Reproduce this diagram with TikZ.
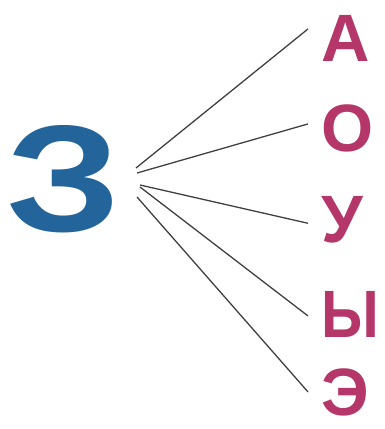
\documentclass[tikz,border=0pt]{standalone}
\usepackage{fontspec}
\setmainfont{Liberation Sans}
\definecolor{zeblue}{RGB}{35,100,155}
\definecolor{vowelpink}{RGB}{181,55,106}

\begin{document}
\begin{tikzpicture}[x=1pt, y=-1pt]
    \tikzset{vowel/.style={anchor=base west, inner sep=0pt, text=vowelpink, font=\fontsize{67}{67}\selectfont\bfseries}}
    \tikzset{link/.style={draw=black!75, line width=1.3pt}}

    \useasboundingbox (0,0) rectangle (385,429);

    % ── СОГЛАСНЫЙ ─────────────────────────────────────────
    \node[anchor=base west, inner sep=0pt, text=zeblue, xscale=1.2,
          font=\fontsize{152}{152}\selectfont\bfseries] (ze) at (6,231) {З};

    % ── ГЛАСНЫЕ ───────────────────────────────────────────
    \foreach \val/\y/\sc [count=\i] in {А/61/1, О/151/1, У/242/1, Ы/337/0.88, Э/415/1} {
        \node[vowel, xscale=\sc] (v\i) at (321,\y) {\val};
    }

    % Начала линий у буквы З
    \coordinate (s1) at (136,168);
    \coordinate (s2) at (137,173);
    \coordinate (s3) at (140,185);
    \coordinate (s4) at (140,187);
    \coordinate (s5) at (137,197);

    % ── ЛИНИИ ─────────────────────────────────────────────
    \foreach \dy [count=\i] in {9,4,-4,-2,0} {
        \draw[link] (s\i) -- ([xshift=-13pt, yshift=\dy pt]v\i.west);
    }

\end{tikzpicture}
\end{document}
